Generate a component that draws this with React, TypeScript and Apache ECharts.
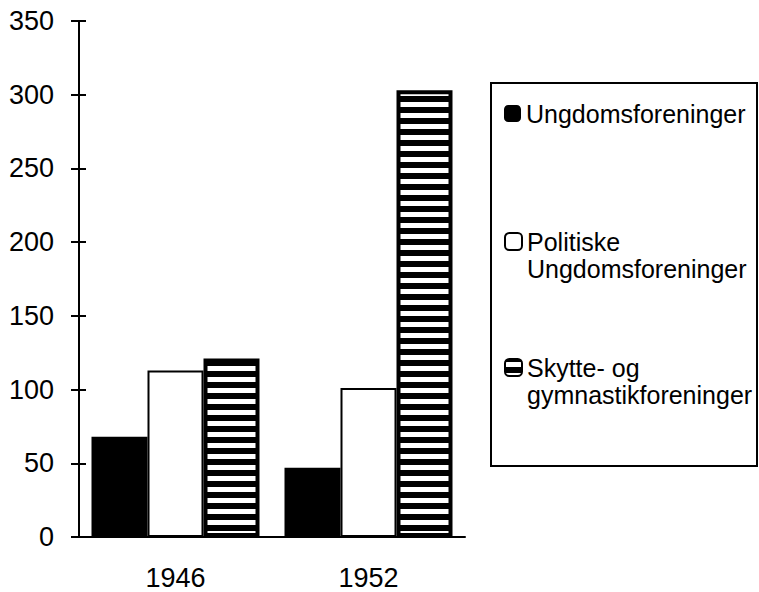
import React, { useEffect, useRef } from "react";
import * as echarts from "echarts";

const categories = ["1946", "1952"];
const ungdomsforeninger = [68, 47];
const politiske = [113, 101];
const skytte = [121, 303];
const yTicks = { min: 0, max: 350, interval: 50 };

const FONT = "'Liberation Sans', Arial, Helvetica, sans-serif";

function stripeCanvas() {
  const c = document.createElement("canvas");
  c.width = 8;
  c.height = 11;
  const ctx = c.getContext("2d")!;
  ctx.fillStyle = "#000";
  ctx.fillRect(0, 0, 8, 11);
  ctx.fillStyle = "#fff";
  ctx.fillRect(0, 3, 8, 5);
  return c;
}

export default function App() {
  const ref = useRef<HTMLDivElement>(null);
  useEffect(() => {
    if (!ref.current) return;
    const chart = echarts.init(ref.current, null, { renderer: "svg" });
    const gridBox = { left: 79, top: 21, width: 386, height: 516 };
    const legendText = {
      color: "#000",
      fontSize: 25,
      fontFamily: FONT,
      lineHeight: 27,
    };
    // leading blank line keeps the first text line level with the icon
    const split = (name: string) => {
      const i = name.lastIndexOf(" ");
      return i > 0 ? "\n" + name.slice(0, i) + "\n" + name.slice(i + 1) : name;
    };
    const legendBase = {
      left: 504,
      orient: "vertical",
      padding: 0,
      itemWidth: 17,
      itemHeight: 17,
      textStyle: legendText,
    };
    chart.setOption({
      animation: false,
      backgroundColor: "#fff",
      grid: [
        { ...gridBox, containLabel: false },
        { ...gridBox, containLabel: false },
      ],
      xAxis: [
        {
          type: "category",
          gridIndex: 0,
          data: categories,
          axisLine: { show: true, lineStyle: { color: "#000", width: 2 } },
          axisTick: { show: false },
          axisLabel: {
            color: "#000",
            fontSize: 27,
            fontFamily: FONT,
            margin: 27,
          },
        },
        { type: "category", gridIndex: 1, data: categories, show: false },
      ],
      yAxis: [
        {
          type: "value",
          gridIndex: 0,
          ...yTicks,
          axisLine: { show: true, lineStyle: { color: "#000", width: 2 } },
          axisTick: {
            show: true,
            inside: false,
            length: 8,
            lineStyle: { color: "#000", width: 2 },
          },
          splitLine: { show: false },
          axisLabel: {
            color: "#000",
            fontSize: 27,
            fontFamily: FONT,
            margin: 25,
          },
        },
        {
          type: "value",
          gridIndex: 1,
          ...yTicks,
          axisLine: { show: false },
          axisTick: {
            show: true,
            inside: true,
            length: 7,
            lineStyle: { color: "#000", width: 2 },
          },
          splitLine: { show: false },
          axisLabel: { show: false },
        },
      ],
      legend: [
        { ...legendBase, data: ["Ungdomsforeninger"], top: 100 },
        {
          ...legendBase,
          data: ["Politiske Ungdomsforeninger"],
          top: 201,
          formatter: split,
        },
        {
          ...legendBase,
          data: ["Skytte- og gymnastikforeninger"],
          top: 327,
          formatter: split,
        },
      ],
      graphic: [
        {
          type: "rect",
          shape: { x: 491, y: 83, width: 266, height: 383 },
          style: { fill: "none", stroke: "#000", lineWidth: 2 },
          silent: true,
        },
      ],
      series: [
        {
          name: "Ungdomsforeninger",
          type: "bar",
          data: ungdomsforeninger,
          barWidth: 56,
          barGap: "0%",
          itemStyle: { color: "#000", borderColor: "#000", borderWidth: 0 },
        },
        {
          name: "Politiske Ungdomsforeninger",
          type: "bar",
          data: politiske,
          barWidth: 56,
          barGap: "0%",
          itemStyle: { color: "#fff", borderColor: "#000", borderWidth: 2 },
        },
        {
          name: "Skytte- og gymnastikforeninger",
          type: "bar",
          data: skytte,
          barWidth: 56,
          barGap: "0%",
          itemStyle: {
            color: { image: stripeCanvas(), repeat: "repeat" },
            borderColor: "#000",
            borderWidth: 4,
          },
        },
      ],
    });
    return () => chart.dispose();
  }, []);
  return (
    <div
      ref={ref}
      style={{ position: "absolute", left: 0, top: 0, width: 759, height: 592 }}
    />
  );
}
